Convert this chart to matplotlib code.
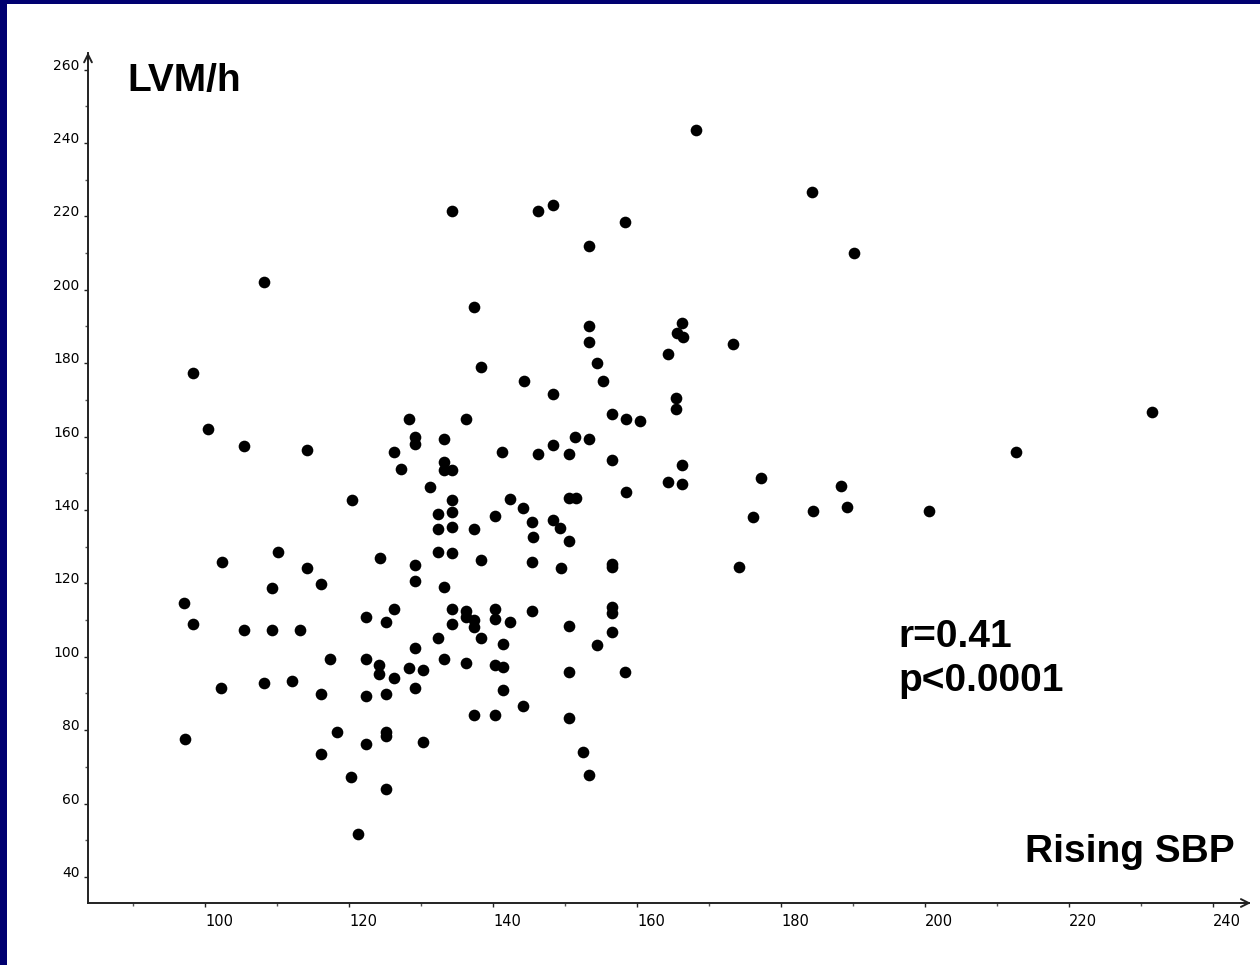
import matplotlib
matplotlib.use("Agg")
import matplotlib.pyplot as plt
from matplotlib.ticker import MultipleLocator
from matplotlib.patches import Rectangle

# Rising systolic blood pressure (x) vs left ventricular mass / height (y)
sbp = [108.2, 98.3, 100.4, 105.4, 114.2, 120.4, 102.3, 110.1, 114.2, 109.3,
       116.1, 97.1, 98.3, 105.4, 109.3, 113.2, 102.2, 108.2, 112.1, 116.1,
       97.2, 117.3, 118.4, 116.1, 120.3, 121.2, 122.3, 122.4, 122.4, 122.3,
       125.2, 126.3, 124.3, 124.2, 124.2, 126.3, 125.2, 125.2, 125.2, 125.2,
       128.4, 130.3, 129.2, 129.2, 130.3, 132.3, 133.2, 134.3, 134.3, 136.3,
       136.3, 137.4, 137.4, 138.3, 136.3, 137.3, 140.3, 140.3, 140.3, 142.3,
       141.4, 140.3, 141.4, 141.4, 144.2, 145.4, 150.6, 150.6, 150.6, 152.5,
       153.4, 154.4, 156.5, 156.5, 156.5, 158.4, 128.3, 129.2, 129.2, 133.2,
       126.3, 127.2, 133.2, 133.2, 134.3, 131.2, 134.3, 132.3, 134.3, 140.3,
       132.3, 134.3, 137.4, 132.3, 134.3, 129.1, 138.3, 129.1, 133.2, 136.3,
       141.3, 142.3, 144.2, 145.4, 148.3, 149.3, 145.5, 150.6, 145.4, 149.4,
       146.3, 148.3, 151.4, 153.4, 150.5, 156.5, 150.6, 151.5, 158.5, 156.5,
       156.5, 144.3, 148.3, 153.3, 153.3, 154.5, 155.3, 156.5, 158.5, 160.4,
       137.4, 138.3, 134.3, 146.2, 148.3, 158.4, 153.3, 168.2, 166.3, 165.5,
       166.4, 164.3, 173.3, 165.4, 165.4, 166.3, 164.3, 166.3, 177.2, 176.1,
       174.1, 188.3, 189.1, 184.4, 200.6, 212.6, 231.5, 184.3, 190.1]
lvm_h = [202.0, 177.2, 162.1, 157.4, 156.3, 142.8, 125.7, 128.6, 124.3, 118.7,
         119.8, 114.6, 108.9, 107.3, 107.3, 107.3, 91.4, 92.8, 93.5, 89.8,
         77.5, 99.3, 79.6, 73.4, 67.3, 51.7, 110.7, 99.3, 89.3, 76.2,
         109.6, 112.9, 127.0, 97.8, 95.4, 94.1, 89.9, 79.6, 78.3, 64.0,
         96.8, 96.4, 102.3, 91.4, 76.8, 105.1, 99.3, 112.9, 108.9, 112.5,
         110.7, 110.0, 108.2, 105.2, 98.4, 84.1, 84.1, 112.9, 110.3, 109.5,
         103.4, 97.8, 97.1, 91.0, 86.5, 112.5, 108.4, 95.9, 83.2, 74.1,
         67.9, 103.2, 113.6, 111.8, 106.7, 95.9, 164.8, 160.0, 158.0, 159.3,
         155.8, 151.2, 153.1, 150.9, 150.9, 146.2, 142.8, 138.8, 139.3, 138.3,
         134.8, 135.4, 134.7, 128.6, 128.2, 124.9, 126.4, 120.7, 119.1, 164.8,
         155.9, 142.9, 140.5, 136.8, 137.3, 135.2, 132.6, 131.4, 125.7, 124.3,
         155.3, 157.6, 159.8, 159.2, 155.2, 153.6, 143.3, 143.3, 145.0, 125.4,
         124.5, 175.0, 171.7, 190.2, 185.8, 180.1, 175.0, 166.1, 164.9, 164.1,
         195.4, 179.0, 221.5, 221.5, 223.1, 218.5, 211.9, 243.5, 190.9, 188.1,
         187.2, 182.4, 185.1, 170.6, 167.5, 152.3, 147.7, 147.2, 148.8, 138.0,
         124.5, 146.6, 140.9, 139.7, 139.8, 155.8, 166.6, 226.6, 210.0]

x_ticks = [100, 120, 140, 160, 180, 200, 220, 240]
y_ticks = [40, 60, 80, 100, 120, 140, 160, 180, 200, 220, 240, 260]

W, H = 1260, 965
fig = plt.figure(figsize=(W / 100, H / 100), dpi=100, facecolor="white")
# navy strip on the left and top of the slide
navy = "#000070"
fig.patches.append(Rectangle((0, 0), 7 / W, 1, transform=fig.transFigure,
                             facecolor=navy, edgecolor="none", zorder=-10))
fig.patches.append(Rectangle((0, 1 - 4 / H), 1, 4 / H, transform=fig.transFigure,
                             facecolor=navy, edgecolor="none", zorder=-10))

ax = fig.add_axes([88 / W, 1 - 903 / H, (1249 - 88) / W, (903 - 53) / H])
ax.set_facecolor("none")
ax.plot(sbp, lvm_h, "o", color="black", markersize=8.4, markeredgewidth=0)

ax.set_xlim(83.75, 245)
ax.set_ylim(32.9, 264.5)
ax.spines["top"].set_visible(False)
ax.spines["right"].set_visible(False)
for s in ["left", "bottom"]:
    ax.spines[s].set_linewidth(1.4)
    ax.spines[s].set_color("#222222")

ax.set_xticks(x_ticks)
ax.set_yticks(y_ticks)
ax.xaxis.set_minor_locator(MultipleLocator(10))
ax.yaxis.set_minor_locator(MultipleLocator(10))
ax.tick_params(which="major", length=3, width=1, direction="out", color="#222222")
ax.tick_params(which="minor", length=2, width=1, direction="out", color="#555555")
ax.tick_params(axis="x", labelsize=10.5, pad=5)
ax.tick_params(axis="y", labelsize=10, pad=3)
for lab in ax.get_xticklabels():
    lab.set_horizontalalignment("left")
for lab in ax.get_yticklabels():
    lab.set_verticalalignment("baseline")

# arrow heads at the axis ends
ax.annotate("", xy=(1.004, 0), xytext=(0.99, 0), xycoords="axes fraction",
            arrowprops=dict(arrowstyle="->", color="#222222", lw=1.4,
                            mutation_scale=14), annotation_clip=False)
ax.annotate("", xy=(0, 1.004), xytext=(0, 0.99), xycoords="axes fraction",
            arrowprops=dict(arrowstyle="->", color="#222222", lw=1.4,
                            mutation_scale=14), annotation_clip=False)

font = "Liberation Sans"
fig.text(127 / W, 1 - 91 / H, "LVM/h", fontsize=28, fontweight="bold",
         family=font, va="baseline")
fig.text(1025 / W, 1 - 862 / H, "Rising SBP", fontsize=28, fontweight="bold",
         family=font, va="baseline")
fig.text(898 / W, 1 - 647 / H, "r=0.41", fontsize=28, fontweight="bold",
         family=font, va="baseline")
fig.text(898 / W, 1 - 691 / H, "p<0.0001", fontsize=28, fontweight="bold",
         family=font, va="baseline")

fig.savefig("out.png", dpi=100)
